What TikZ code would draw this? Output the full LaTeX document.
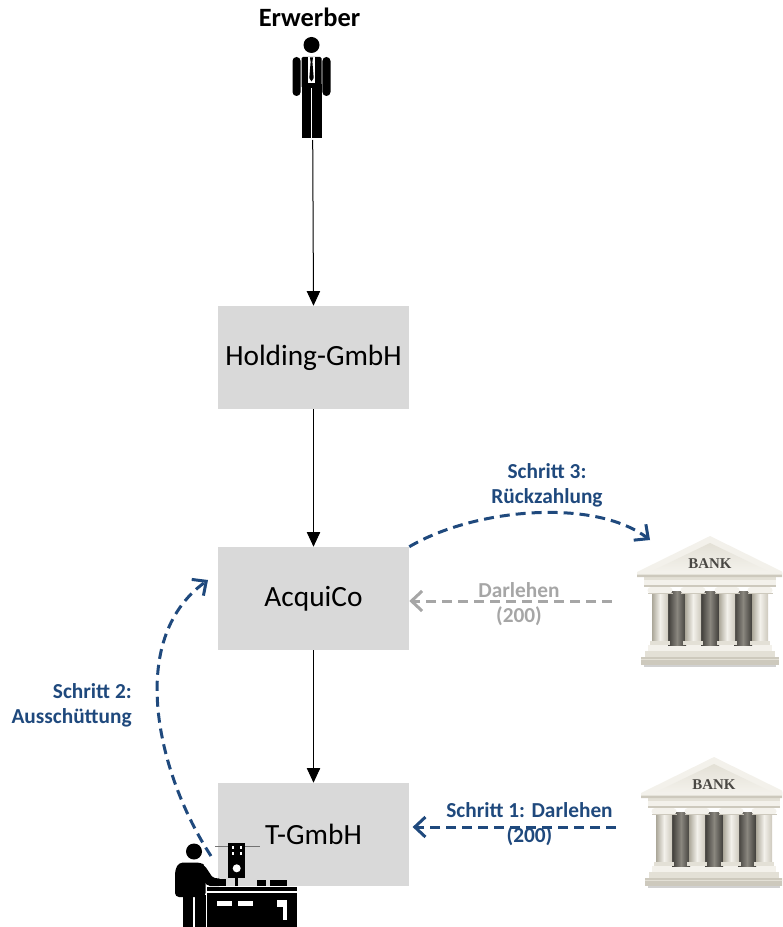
\documentclass[tikz,border=0pt]{standalone}
\usepackage{fontspec}
\setmainfont{Carlito}
\newfontfamily\bankfont{Liberation Serif}
\usetikzlibrary{arrows.meta}

\definecolor{boxgray}{HTML}{D9D9D9}
\definecolor{stepblue}{HTML}{1F497D}
\definecolor{loangray}{HTML}{A6A6A6}
\definecolor{stoneA}{HTML}{F3F1EB}
\definecolor{stoneB}{HTML}{E3E0D6}
\definecolor{stoneC}{HTML}{CDC9BD}
\definecolor{stoneD}{HTML}{ABA799}
\definecolor{shadeA}{HTML}{3F3D39}
\definecolor{shadeB}{HTML}{8A877F}
\definecolor{bankink}{HTML}{4A4844}

\tikzset{
  entity/.style={fill=boxgray, minimum width=143.25pt, minimum height=77.25pt,
    inner sep=0pt, font=\fontsize{22}{26}\selectfont},
  own/.style={line width=0.75pt, -{Triangle[length=11pt,width=10pt]}},
  flow/.style={line width=2.25pt, dash pattern=on 7.5pt off 4.5pt,
    -{Straight Barb[length=8pt,width=15pt]}},
  steplabel/.style={font=\bfseries\fontsize{16}{18.75}\selectfont, inner sep=0pt, align=center},
  bank/.pic={
    % ground shadow and steps
    \fill[black!30, opacity=0.6] (-66,127) rectangle (66,130);
    \fill[stoneC] (-69,120) rectangle (69,127.5);
    \fill[stoneB] (-69,121.5) rectangle (69,122.5);
    \fill[stoneB] (-65,114) rectangle (65,120);
    \fill[stoneA] (-62,108) rectangle (62,114);
    % dark hall between the columns
    \foreach \g in {-33,0,33}{
      \shade[left color=shadeA, right color=shadeA, middle color=shadeB]
        ({\g-9},54) rectangle ({\g+9},108);
    }
    % columns with capitals and bases
    \foreach \c in {-50,-17,17,50}{
      \shade[left color=stoneD, right color=stoneC, middle color=stoneA]
        ({\c-8},55) rectangle ({\c+8},106);
      \fill[stoneA, rounded corners=2.5pt] ({\c-12.5},50) rectangle ({\c+12.5},56.5);
      \fill[stoneC] ({\c-12.5},55.5) rectangle ({\c+12.5},56.5);
      \fill[stoneB] ({\c-10},104) rectangle ({\c+10},108);
    }
    % entablature
    \fill[stoneB] (-66,38) rectangle (66,50);
    \fill[stoneA] (-66,43) rectangle (66,48);
    \fill[stoneC] (-66,48) rectangle (66,50);
    % pediment
    \fill[stoneC] (0,0) -- (73,36) -- (73,40) -- (-73,40) -- (-73,36) -- cycle;
    \fill[stoneA] (0,-1) -- (73,35) -- (73,37.5) -- (-73,37.5) -- (-73,35) -- cycle;
    \shade[top color=stoneB, bottom color=stoneA] (0,6) -- (58,34) -- (-58,34) -- cycle;
    \node[font=\bankfont\bfseries\fontsize{11.2}{12}\selectfont, text=bankink, inner sep=0pt]
      at (0,26.5) {BANK};
  }
}

\begin{document}
\begin{tikzpicture}[x=0.75pt, y=-0.75pt]
  \useasboundingbox (0,0) rectangle (782,927);
  \clip (0,0) rectangle (782,927);

  % ownership chain
  \node[entity] (holding) at (313.5,357.5) {Holding-GmbH};
  \node[entity] (acquico) at (313.5,598.5) {AcquiCo};
  \node[entity] (tgmbh)   at (313.5,834.5) {T-GmbH};

  % buyer
  \node[font=\bfseries\fontsize{19.8}{24}\selectfont, inner sep=0pt, anchor=base]
    (buyerlabel) at (309.5,26.7) {Erwerber};
  \begin{scope}
    \fill (311.5,45) circle (8);
    \fill[rounded corners=3pt] (292.5,57) rectangle (300.6,96);
    \fill[rounded corners=3pt] (322.4,57) rectangle (330.5,96);
    \fill[rounded corners=1pt] (301.5,57) rectangle (321.5,88);
    \fill (301.5,84) rectangle (310.9,138);
    \fill (312.1,84) rectangle (321.5,138);
    \fill[white] (307.6,57) rectangle (315.4,83);
    \fill (310,57.5) -- (313,57.5) -- (312.4,62) -- (313.7,78) -- (311.5,81.5)
      -- (309.3,78) -- (310.6,62) -- cycle;
  \end{scope}
  \coordinate (buyer) at (312.7,140);

  % banks
  \pic at (710,537) {bank};
  \pic at (714,758) {bank};
  \coordinate (bankAin)  at (650,540);
  \coordinate (bankAout) at (612,601);
  \coordinate (bankBout) at (616,827);

  % worker at the machine
  \begin{scope}
    \fill (194,851.5) circle (8);
    \fill[rounded corners=3pt] (175,897) -- (175,870) -- (179,862.5) -- (201,862.5)
      -- (205.5,866) -- (205.5,897) -- cycle;
    \fill (183,895) rectangle (193.3,927);
    \fill (195,895) rectangle (205.5,927);
    \fill[rounded corners=1.5pt] (199,863) -- (205,866) -- (213,878) -- (221,878.5)
      -- (221,886) -- (208,886) -- (201,878) -- cycle;
    \fill (206.7,887.3) rectangle (296.7,890.7);
    \fill (206.7,892.7) rectangle (296.7,927);
    \fill[white] (216.7,901) rectangle (231.7,906);
    \fill[white] (238.3,901) rectangle (253.3,906);
    \fill[white] (277.3,900) rectangle (287.3,907.3);
    \fill[white] (282.7,907) rectangle (286.7,920);
    \fill (213.3,879.3) rectangle (226,886);
    \fill (256.7,880) rectangle (266,886);
    \fill (270,880) rectangle (286.7,886);
    \draw[black!55, line width=0.6pt] (215,846.7) -- (260,846.7);
    \fill (228.3,842.7) rectangle (245,878.3);
    \fill (235,878) rectangle (238,886);
    \fill[white] (236.7,868.3) circle (4);
    \fill[white] (231.5,846) rectangle (233.5,848.5);
    \fill[white] (240,846) rectangle (242,848.5);
    \fill[white] (231.5,852) rectangle (233.5,854.5);
    \fill[white] (240,852) rectangle (242,854.5);
  \end{scope}
  \coordinate (worker) at (211,856);
  \coordinate (acqin) at (208,580);

  % ownership arrows
  \draw[own] (buyer) -- (holding.north);
  \draw[own] (holding.south) -- (acquico.north);
  \draw[own] (acquico.south) -- (tgmbh.north);

  % step 1: loan to T-GmbH
  \draw[flow, stepblue, shorten >=2.5pt] (bankBout) -- (bankBout -| tgmbh.east);
  \node[steplabel, text=stepblue] (step1) at (529.5,824) {Schritt 1: Darlehen\\(200)};

  % original acquisition loan
  \draw[flow, loangray] (bankAout) -- (bankAout -| acquico.east);
  \node[steplabel, text=loangray] (loan) at (519,604) {Darlehen\\(200)};

  % step 2: distribution
  \draw[flow, stepblue] (worker) .. controls (158,775) and (125,640) .. (acqin);
  \node[steplabel, align=right, anchor=east, text=stepblue] (step2) at (132,705.3)
    {Schritt 2:\\Ausschüttung};

  % step 3: repayment
  \draw[flow, stepblue] (acquico.north east) .. controls (475,508) and (595,498) .. (bankAin);
  \node[steplabel, text=stepblue] (step3) at (547,485.7) {Schritt 3:\\Rückzahlung};
\end{tikzpicture}
\end{document}
